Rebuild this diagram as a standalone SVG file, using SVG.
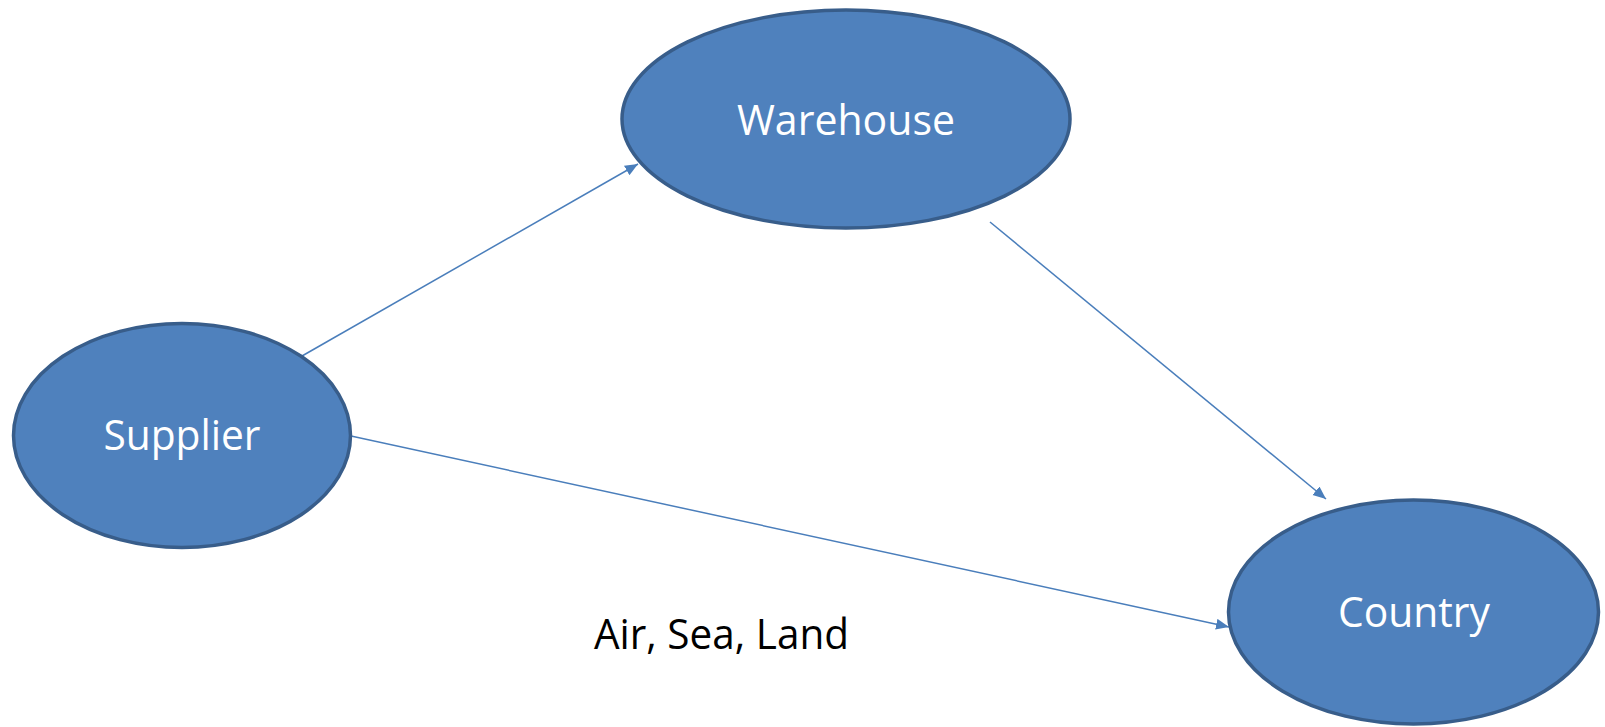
<svg xmlns="http://www.w3.org/2000/svg" width="1605" height="727" viewBox="0 0 1605 727">
<style>
.node{fill:#4f81bd;stroke:#385d8a;stroke-width:3.5}
.lbl{font-family:"Open Sans","Liberation Sans",sans-serif;font-size:42px;fill:#ffffff;text-anchor:middle}
.edge{stroke:#4a7ebb;stroke-width:1.5;fill:none;marker-end:url(#arr)}
.note{font-family:"Open Sans","Liberation Sans",sans-serif;font-size:42px;fill:#000000;text-anchor:middle}
</style>
<defs>
<marker id="arr" markerUnits="userSpaceOnUse" markerWidth="14" markerHeight="12" refX="13" refY="5.5" orient="auto">
<path d="M0,0 L13,5.5 L0,11 Z" fill="#4a7ebb"/>
</marker>
</defs>
<rect width="1605" height="727" fill="#ffffff"/>
<g id="connectors">
<line class="edge" x1="302" y1="356" x2="638" y2="164"/>
<line class="edge" x1="990" y1="222" x2="1326" y2="499"/>
<line class="edge" x1="351" y1="436" x2="1229" y2="627"/>
</g>
<g id="warehouse">
<ellipse class="node" cx="846" cy="119" rx="224" ry="109"/>
<text class="lbl" x="846" y="135" textLength="218" lengthAdjust="spacingAndGlyphs">Warehouse</text>
</g>
<g id="supplier">
<ellipse class="node" cx="182" cy="435.5" rx="168.5" ry="112"/>
<text class="lbl" x="182" y="450" textLength="157" lengthAdjust="spacingAndGlyphs">Supplier</text>
</g>
<g id="country">
<ellipse class="node" cx="1413.5" cy="612" rx="185" ry="112"/>
<text class="lbl" x="1414" y="627" textLength="152" lengthAdjust="spacingAndGlyphs">Country</text>
</g>
<g id="label">
<text class="note" x="721.5" y="649" textLength="255" lengthAdjust="spacingAndGlyphs">Air, Sea, Land</text>
</g>
</svg>
